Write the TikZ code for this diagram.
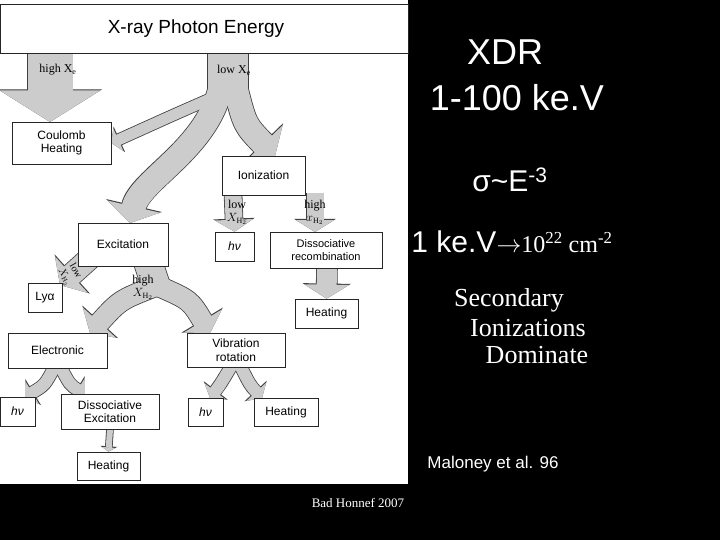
\documentclass[tikz,border=0pt]{standalone}
\usepackage{fontspec}
\setmainfont{Liberation Serif}
\setsansfont{Liberation Sans}
\usetikzlibrary{arrows.meta,backgrounds}
\begin{document}
\begin{tikzpicture}[x=1pt,y=-1pt,
  bx/.style={draw=black!85, line width=0.7pt, fill=white, font=\sffamily\fontsize{12}{13.5}\selectfont, align=center, inner sep=1pt},
  lbl/.style={font=\fontsize{12}{13}\selectfont, align=center, inner sep=0pt},
  rt/.style={text=white, inner sep=0pt, anchor=center}]
\useasboundingbox (0,0) rectangle (720,540);
\node[bx, minimum width=408pt, minimum height=49pt, font=\sffamily\fontsize{19}{20}\selectfont] (title) at (204,28.5) {\hspace*{-16pt}X-ray Photon Energy};
\node[bx, minimum width=99pt, minimum height=42pt] (coul) at (61.5,143) {Coulomb\\Heating};
\node[bx, minimum width=83pt, minimum height=39pt] (ion) at (263.5,175.5) {Ionization};
\node[bx, minimum width=90pt, minimum height=43pt] (exc) at (123,244.5) {Excitation};
\node[bx, minimum width=39pt, minimum height=29pt] (hv1) at (234.5,246.5) {\textit{hν}};
\node[bx, minimum width=112pt, minimum height=36pt, font=\sffamily\fontsize{11}{12.5}\selectfont] (drec) at (326,250) {Dissociative\\recombination};
\node[bx, minimum width=34pt, minimum height=29pt] (lya) at (45,297.5) {Lyα};
\node[bx, minimum width=63pt, minimum height=29pt] (heat1) at (326.5,313.5) {Heating};
\node[bx, minimum width=99pt, minimum height=35pt] (elec) at (57.5,350.5) {Electronic};
\node[bx, minimum width=98pt, minimum height=34pt] (vib) at (236,350) {Vibration\\rotation};
\node[bx, minimum width=35pt, minimum height=29pt] (hv2) at (17.5,411.5) {\textit{hν}};
\node[bx, minimum width=98pt, minimum height=35pt] (dexc) at (110,411.5) {Dissociative\\Excitation};
\node[bx, minimum width=35pt, minimum height=28pt] (hv3) at (205.5,412) {\textit{hν}};
\node[bx, minimum width=64pt, minimum height=28pt] (heat2) at (286,412) {Heating};
\node[bx, minimum width=63pt, minimum height=28pt] (heat3) at (108.5,466) {Heating};
\newcommand\myarrows{%
 \draw[fa=45] (50,50) -- (50,122);
 \draw[fa=40,-] (228,50) -- (228,97);
 \draw[fa=11] (226,92) .. controls (180,112) .. (coul.east);
 \draw[fa=24] (220,90) .. controls (205,150) and (140,180) .. (130,223);
 \draw[fa=24] (236,90) .. controls (245,125) .. (275,156);
 \draw[fa=17] (233,193) -- (hv1.north);
 \draw[fa=17] (315,193) -- (315,232);
 \draw[fa=20] (327,266) -- (heat1.north);
 \draw[fa=22] (90,258) -- (60,285);
 \draw[fa=28,-] (148,262) -- (158,292);
 \draw[fa=20] (156,286) .. controls (120,300) .. (90,333);
 \draw[fa=20] (158,286) .. controls (190,300) .. (210,333);
 \draw[fa=12] (55,366) .. controls (45,385) .. (25,397);
 \draw[fa=12] (60,366) .. controls (70,385) .. (85,394);
 \draw[fa=6] (dexc.south) -- (heat3.north);
 \draw[fa=12] (232,365) .. controls (220,385) .. (210,398);
 \draw[fa=12] (240,365) .. controls (250,385) .. (262,398);
}
\begin{pgfonlayer}{background}
\fill[black] (0,0) rectangle (720,540);
\fill[white] (0,0) rectangle (408,484);
\begin{scope}[fa/.style={draw=black!75, line width=#1pt+1.6pt, -{Triangle[width=0pt 2.2, length=0pt 0.7]}}]
\myarrows
\end{scope}
\begin{scope}[fa/.style={draw=black!20, line width=#1pt, -{Triangle[width=0pt 2.2, length=0pt 0.7]}}]
\myarrows
\end{scope}
\end{pgfonlayer}
\node[lbl] (l1) at (58,70) {high X$_\mathrm{e}$};
\node[lbl] (l2) at (234,70) {low X$_\mathrm{e}$};
\node[lbl] (l3) at (237,212) {low\\$X_{\mathrm{H}_2}$};
\node[lbl] (l4) at (315,212) {high\\$x_{\mathrm{H}_2}$};
\node[lbl, rotate=-60, font=\fontsize{10}{10}\selectfont] (l5) at (70,274) {low\\[2pt]$X_{\mathrm{H}_2}$};
\node[lbl] (l6) at (143,287) {high\\$X_{\mathrm{H}_2}$};
\node[rt, font=\sffamily\fontsize{36}{36}\selectfont] (t1) at (505,52) {XDR};
\node[rt, font=\sffamily\fontsize{36}{36}\selectfont] (t2) at (517,98) {1-100 ke.V};
\node[rt, font=\sffamily\fontsize{30}{30}\selectfont] (t3) at (510,180) {σ\textasciitilde E\textsuperscript{-3}};
\node[rt, font=\sffamily\fontsize{30}{30}\selectfont] (t4) at (512,242) {1 ke.V{\rmfamily\fontsize{24}{24}\selectfont$\rightarrow$10\textsuperscript{22} cm\textsuperscript{-2}}};
\node[rt, font=\fontsize{26}{26}\selectfont] (t5) at (509,300) {Secondary};
\node[rt, font=\fontsize{26}{26}\selectfont] (t6) at (528,328) {Ionizations};
\node[rt, font=\fontsize{26}{26}\selectfont] (t7) at (537,355) {Dominate};
\node[rt, font=\sffamily\fontsize{17}{17}\selectfont] (t8) at (493,464) {Maloney et al. 96};
\node[rt, font=\fontsize{13}{13}\selectfont] (t9) at (358,503) {Bad Honnef 2007};
\end{tikzpicture}
\end{document}
